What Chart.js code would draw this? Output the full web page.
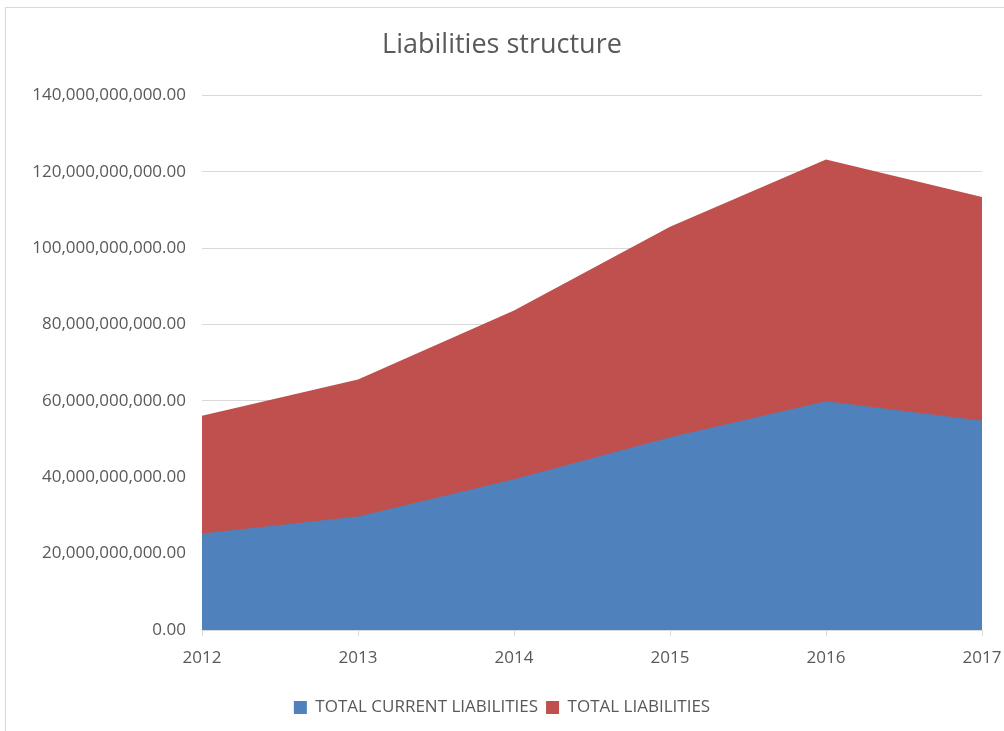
<!DOCTYPE html>
<html>
<head>
<meta charset="utf-8">
<script src="https://cdn.jsdelivr.net/npm/chart.js@4/dist/chart.umd.min.js"></script>
<style>
  html, body { margin: 0; padding: 0; background: #fff; }
  #wrap { position: relative; width: 1004px; height: 731px; }
  #frame { position: absolute; left: 5px; top: 7px; width: 1010px; height: 740px; border: 1px solid #d9d9d9; box-sizing: border-box; }
  canvas { position: absolute; left: 0; top: 0; }
</style>
</head>
<body>
<div id="wrap">
  <div id="frame"></div>
  <canvas id="chart" width="1004" height="731"></canvas>
</div>
<script>
'use strict';
var years = ['2012', '2013', '2014', '2015', '2016', '2017'];
var currentLiabilities = [25300000000, 29700000000, 39500000000, 50500000000, 59900000000, 54800000000];
var totalLiabilities = [56100000000, 65600000000, 83700000000, 105600000000, 123200000000, 113400000000];
var yTicks = [0, 20000000000, 40000000000, 60000000000, 80000000000, 100000000000, 120000000000, 140000000000];

var TEXT = '#595959';
var FONT = '"Open Sans", Lato, sans-serif';

function fmt(v) {
  return Number(v).toLocaleString('en-US', { minimumFractionDigits: 2, maximumFractionDigits: 2 });
}

var ctx = document.getElementById('chart');
new Chart(ctx, {
  type: 'line',
  data: {
    labels: years,
    datasets: [{
      label: 'TOTAL CURRENT LIABILITIES',
      data: currentLiabilities,
      backgroundColor: '#4f81bd',
      borderColor: '#4f81bd',
      borderWidth: 0,
      pointRadius: 0,
      fill: 'origin',
      tension: 0
    }, {
      label: 'TOTAL LIABILITIES',
      data: totalLiabilities,
      backgroundColor: '#c0504d',
      borderColor: '#c0504d',
      borderWidth: 0,
      pointRadius: 0,
      fill: 'origin',
      tension: 0
    }]
  },
  options: {
    responsive: false,
    animation: false,
    layout: { padding: { left: 0, right: 0, top: 0, bottom: 5 } },
    plugins: {
      title: {
        display: true,
        text: 'Liabilities structure',
        color: TEXT,
        font: { family: FONT, size: 27, weight: 'normal' },
        padding: { top: 29, bottom: 34 }
      },
      legend: {
        position: 'bottom',
        labels: {
          color: TEXT,
          font: { family: FONT, size: 17 },
          boxWidth: 13,
          boxHeight: 13,
          padding: 8
        }
      },
      tooltip: { enabled: false }
    },
    scales: {
      x: {
        offset: false,
        afterFit: function(axis) {
          axis.height = 61;
          axis.paddingLeft = 0;
          axis.paddingRight = 22;
        },
        grid: { drawOnChartArea: false, drawTicks: true, tickLength: 6, color: '#d9d9d9' },
        border: { color: '#d9d9d9' },
        ticks: { color: TEXT, font: { family: FONT, size: 17 }, padding: 12, maxRotation: 0 }
      },
      y: {
        min: 0,
        max: 140000000000,
        afterBuildTicks: function(axis) {
          axis.ticks = yTicks.map(function(v) { return { value: v }; });
        },
        afterFit: function(axis) { axis.width = 202; },
        grid: { color: '#d9d9d9', drawTicks: false },
        border: { display: false },
        ticks: {
          color: TEXT,
          font: { family: FONT, size: 17 },
          padding: 16,
          callback: function(v) { return fmt(v); }
        }
      }
    }
  }
});
</script>
</body>
</html>
